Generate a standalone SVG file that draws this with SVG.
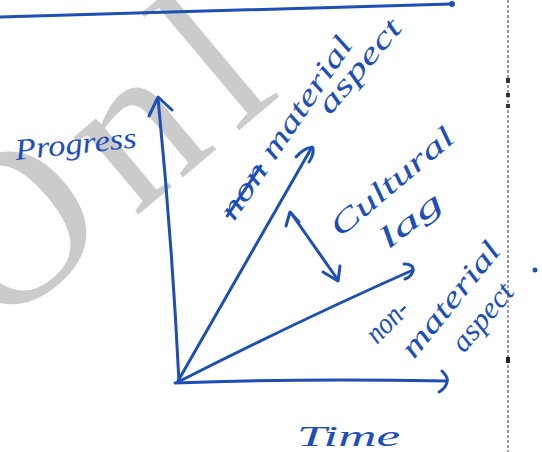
<svg xmlns="http://www.w3.org/2000/svg" width="542" height="452" viewBox="0 0 542 452">
<style>
.ink{fill:none;stroke:#1d4fb4;stroke-width:3;stroke-linecap:round;stroke-linejoin:round}
.lbl{fill:#1d4fb4;font-family:"Liberation Serif",serif;font-style:italic;font-size:30px}
.wm{fill:#cbcbcb;font-family:"Liberation Serif",serif;font-size:220px}
</style>
<rect width="542" height="452" fill="#ffffff"/>
<g id="watermark">
<text class="wm" letter-spacing="22" transform="translate(-4,334) rotate(-40)">Onl</text>
</g>
<g id="border">
<line x1="508" y1="0" x2="508" y2="452" stroke="#9a9a9a" stroke-width="2" stroke-dasharray="3 2"/>
<rect x="506" y="78" width="4" height="5" fill="#333"/>
<rect x="506" y="93" width="4" height="4" fill="#333"/>
<rect x="506" y="104" width="4" height="4" fill="#333"/>
<rect x="506" y="357" width="4" height="6" fill="#222"/>
<circle cx="535" cy="270" r="2.5" fill="#1d4fb4"/>
</g>
<g id="connectors">
<path class="ink" d="M0,17 Q250,10 451,4"/>
<circle cx="452" cy="4" r="3" fill="#1d4fb4"/>
<path class="ink" d="M179,382 Q172,240 158,98"/>
<path class="ink" d="M149,116 L158,97 L172,110"/>
<path class="ink" d="M175,383 Q300,378 447,381"/>
<path class="ink" d="M442,371 Q449,378 447,382 Q446,388 439,392"/>
<path class="ink" d="M178,381 L312,147"/>
<path class="ink" d="M296,157 Q306,146 313,148 Q314,155 309,162"/>
<path class="ink" d="M178,382 Q300,320 413,270"/>
<path class="ink" d="M404,264 Q414,264 413,271 Q411,277 405,279"/>
<path class="ink" d="M291,213 L338,280"/>
<path class="ink" d="M286,226 L290,212 L299,222"/>
<path class="ink" d="M323,272 L338,281 L340,266"/>
</g>
<g id="labels">
<text class="lbl" font-size="36" transform="translate(16,160) rotate(-6)" textLength="122" lengthAdjust="spacingAndGlyphs">Progress</text>
<text class="lbl" font-size="32" transform="translate(234,222) rotate(-56)" textLength="214" lengthAdjust="spacingAndGlyphs"><tspan text-decoration="line-through">non</tspan> material</text>
<text class="lbl" font-size="32" transform="translate(330,116) rotate(-50)" textLength="114" lengthAdjust="spacingAndGlyphs">aspect</text>
<text class="lbl" font-size="32" transform="translate(340,238) rotate(-40)" textLength="152" lengthAdjust="spacingAndGlyphs">Cultural</text>
<text class="lbl" font-size="32" transform="translate(388,250) rotate(-38)" textLength="72" lengthAdjust="spacingAndGlyphs">lag</text>
<text class="lbl" transform="translate(377,345) rotate(-45)" textLength="48" lengthAdjust="spacingAndGlyphs">non-</text>
<text class="lbl" transform="translate(414,360) rotate(-51)" textLength="140" lengthAdjust="spacingAndGlyphs">material</text>
<text class="lbl" transform="translate(464,354) rotate(-50)" textLength="80" lengthAdjust="spacingAndGlyphs">aspect</text>
<text class="lbl" font-size="38" x="297" y="446" textLength="103" lengthAdjust="spacingAndGlyphs">Time</text>
</g>
</svg>
